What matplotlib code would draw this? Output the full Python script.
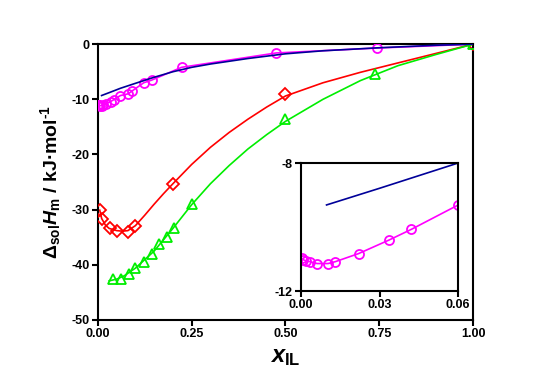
import matplotlib
matplotlib.use("Agg")
import matplotlib.pyplot as plt

plt.rcParams['font.family'] = ['Liberation Sans', 'DejaVu Sans']
plt.rcParams['font.weight'] = 'bold'
plt.rcParams['axes.unicode_minus'] = False
plt.rcParams['mathtext.fontset'] = 'custom'
plt.rcParams['mathtext.rm'] = 'Liberation Sans:bold'
plt.rcParams['mathtext.it'] = 'Liberation Sans:bold:italic'
plt.rcParams['mathtext.bf'] = 'Liberation Sans:bold'

# ---- data ----
x_mag = [0.0003, 0.0009, 0.0018, 0.0034, 0.0062, 0.0104, 0.0132, 0.0220, 0.0338, 0.0422,
         0.0598, 0.081, 0.091, 0.122, 0.144, 0.223, 0.475, 0.745, 1.0]
y_mag = [-10.98, -11.02, -11.05, -11.08, -11.14, -11.14, -11.08, -10.83, -10.40, -10.07,
         -9.32, -9.0, -8.5, -7.0, -6.5, -4.2, -1.6, -0.7, 0.0]

x_blue = [0.0098, 0.03, 0.06, 0.10, 0.15, 0.20, 0.25, 0.30, 0.40, 0.50, 0.60, 0.75, 0.90, 1.00]
y_blue = [-9.31, -8.79, -8.0, -7.1, -6.0, -5.0, -4.2, -3.6, -2.6, -1.75, -1.2, -0.65, -0.2, 0.0]

x_red = [0.005, 0.010, 0.032, 0.050, 0.081, 0.099, 0.200, 0.500, 1.0]
y_red = [-30.1, -31.7, -33.4, -33.9, -34.1, -32.9, -25.3, -9.1, 0.0]
x_red_fit = [0.005, 0.01, 0.02, 0.03, 0.05, 0.065, 0.08, 0.10, 0.125, 0.15, 0.175, 0.20, 0.25,
             0.30, 0.35, 0.40, 0.45, 0.50, 0.60, 0.70, 0.80, 0.90, 1.00]
y_red_fit = [-30.1, -31.6, -32.8, -33.4, -33.8, -33.9, -33.8, -32.9, -31.0, -29.0, -27.1, -25.3,
             -21.8, -18.7, -16.0, -13.6, -11.4, -9.4, -7.0, -5.1, -3.4, -1.7, 0.0]

x_green = [0.041, 0.061, 0.082, 0.100, 0.122, 0.143, 0.163, 0.183, 0.202, 0.251, 0.50, 0.74, 1.0]
y_green = [-42.5, -42.5, -41.6, -40.6, -39.4, -38.1, -36.2, -34.9, -33.3, -29.0, -13.6, -5.45, 0.0]
x_green_fit = [0.03, 0.05, 0.07, 0.10, 0.15, 0.20, 0.25, 0.30, 0.35, 0.40, 0.45, 0.50, 0.60,
               0.70, 0.80, 0.90, 1.00]
y_green_fit = [-42.9, -42.6, -42.0, -40.6, -37.5, -33.4, -29.1, -25.3, -22.0, -19.0, -16.4,
               -14.0, -10.0, -6.6, -3.9, -1.9, 0.0]

main_xticks = [0.0, 0.25, 0.5, 0.75, 1.0]
main_xticklabels = ['0.00', '0.25', '0.50', '0.75', '1.00']
main_yticks = [0, -10, -20, -30, -40, -50]
inset_xticks = [0.0, 0.03, 0.06]
inset_xticklabels = ['0.00', '0.03', '0.06']
inset_yticks = [-12, -8]

MAG = '#FF00FF'
RED = '#FF0000'
GRN = '#00EE00'
BLU = '#000099'

fig = plt.figure(figsize=(5.5, 3.84), dpi=100)
ax = fig.add_axes([0.178, 0.1667, 0.682, 0.7183])

lw = 1.2
ax.plot(x_mag, y_mag, color=MAG, lw=lw, marker='o', ms=6.5, mfc='none', mew=1.3, zorder=3)
ax.plot(x_blue, y_blue, color=BLU, lw=lw, zorder=4)
ax.plot(x_red_fit, y_red_fit, color=RED, lw=lw, zorder=3)
ax.plot(x_red, y_red, ls='none', color=RED, marker='D', ms=6.3, mfc='none', mew=1.3, zorder=3)
ax.plot(x_green_fit, y_green_fit, color=GRN, lw=lw, zorder=3)
ax.plot(x_green, y_green, ls='none', color=GRN, marker='^', ms=7.8, mfc='none', mew=1.3, zorder=3)

ax.set_xlim(0, 1)
ax.set_ylim(-50, 0)
ax.set_xticks(main_xticks)
ax.set_xticklabels(main_xticklabels)
ax.set_yticks(main_yticks)
for s in ax.spines.values():
    s.set_linewidth(1.5)
ax.tick_params(direction='out', length=4, width=1.5, labelsize=9, pad=2)
for t in ax.get_xticklabels() + ax.get_yticklabels():
    t.set_fontweight('bold')

ax.set_xlabel(r'$x_{\rm IL}$', fontsize=17, labelpad=4)
ax.set_ylabel(r'$\Delta_{\rm sol}H_{\rm m}$ / kJ·mol$^{\text{-1}}$', fontsize=14,
              fontweight='bold', labelpad=6)

# inset
ai = fig.add_axes([0.547, 0.242, 0.286, 0.3335])
ai.plot(x_mag, y_mag, color=MAG, lw=lw, marker='o', ms=6.5, mfc='none', mew=1.3)
ai.plot(x_blue, y_blue, color=BLU, lw=lw)
ai.set_xlim(0, 0.06)
ai.set_ylim(-12, -8)
ai.set_xticks(inset_xticks)
ai.set_xticklabels(inset_xticklabels)
ai.set_yticks(inset_yticks)
for s in ai.spines.values():
    s.set_linewidth(1.5)
ai.tick_params(direction='out', length=4, width=1.5, labelsize=9, pad=2)
for t in ai.get_xticklabels() + ai.get_yticklabels():
    t.set_fontweight('bold')

fig.savefig('out.png', dpi=100)
